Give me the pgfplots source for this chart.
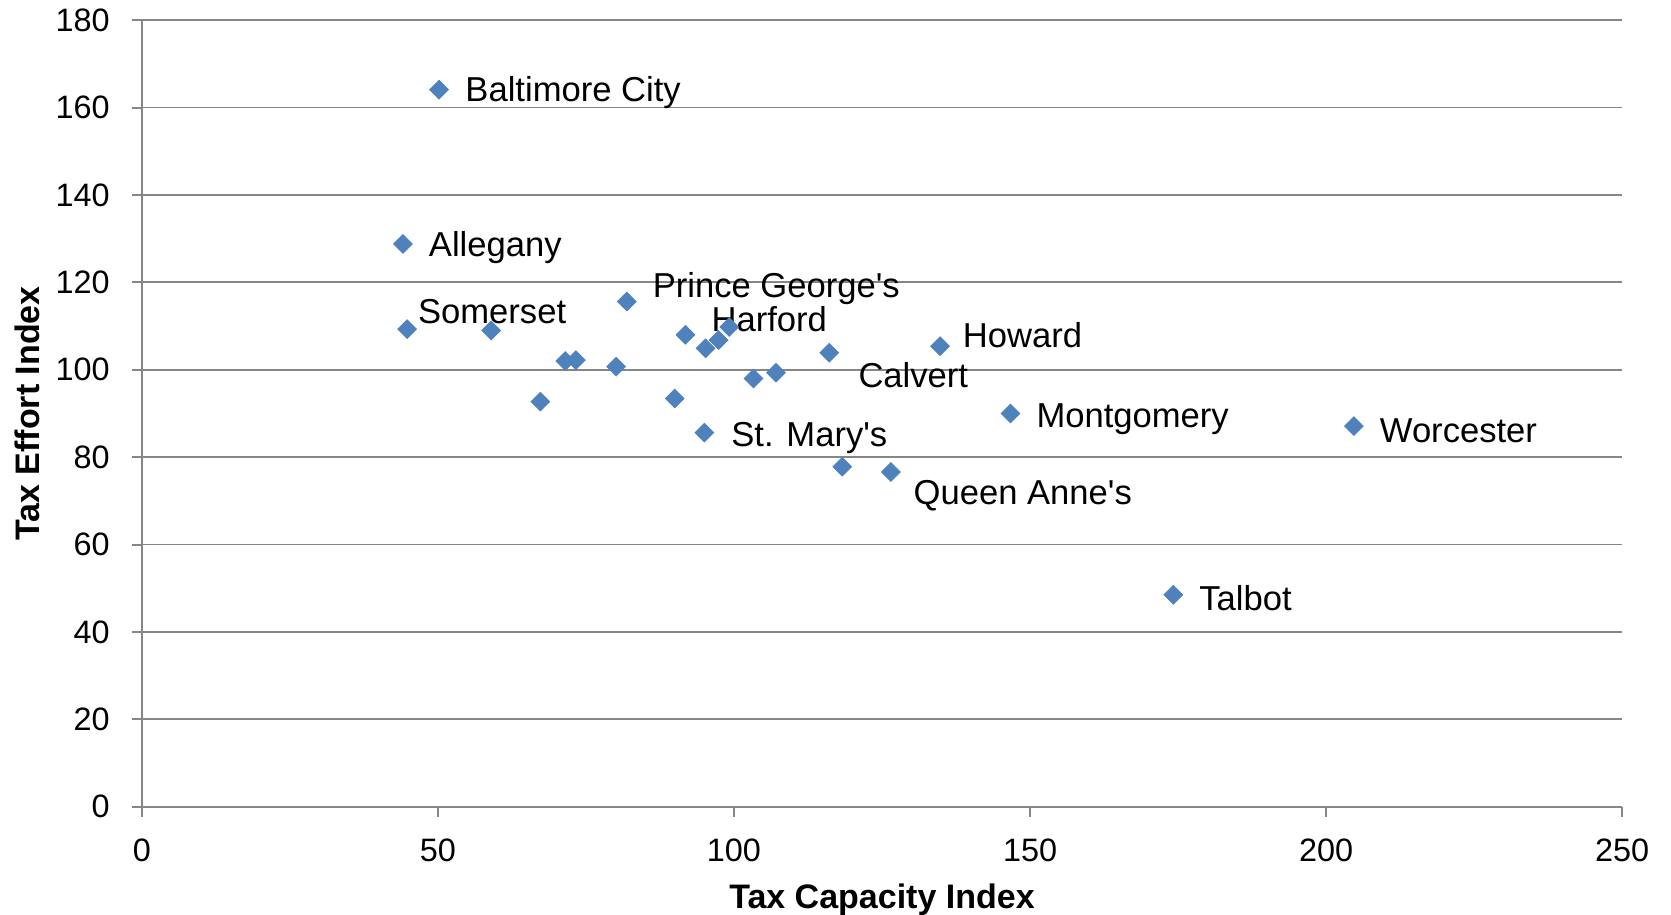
\documentclass[border=0pt]{standalone}
\usepackage{pgfplots}
\pgfplotsset{compat=1.18}
\usepackage{fontspec}
\setmainfont{Liberation Sans}
\definecolor{mk}{HTML}{4F81BD}
\definecolor{gr}{HTML}{868686}
\begin{document}
\begin{tikzpicture}
\useasboundingbox (-70.9pt,-54.15pt) rectangle (764.6pt,403.35pt);
\begin{axis}[
  scale only axis,
  width=740.2pt, height=393.25pt,
  xmin=0, xmax=250, ymin=0, ymax=180,
  xtick={0,50,...,250}, ytick={0,20,...,180},
  axis x line*=bottom, axis y line*=left,
  axis line style={gr, line width=1pt, -},
  tick style={gr, line width=1pt},
  tick align=outside, major tick length=5pt,
  ymajorgrids, grid style={gr, line width=0.9pt},
  tick label style={font=\fontsize{16.2}{19}\selectfont},
  /pgf/number format/assume math mode=true,
  xticklabel style={anchor=center, inner sep=0pt, yshift=-16.9pt},
  yticklabel style={anchor=east, inner sep=0pt, xshift=-10.9pt},
  xlabel={Tax Capacity Index}, ylabel={Tax Effort Index},
  every axis x label/.style={at={([yshift=-46.3pt]axis description cs:0.5,0)}, anchor=center, font=\bfseries\fontsize{17}{20}\selectfont},
  every axis y label/.style={at={([xshift=-57.4pt]axis description cs:0,0.5)}, rotate=90, anchor=center, font=\bfseries\fontsize{17}{20}\selectfont},
  clip=false,
]
\addplot[only marks, mark=square*, mark size=3.3pt, mark options={rotate=45, fill=mk, draw=mk}] coordinates {
(50.2,164.1) (44.1,128.8) (44.8,109.3) (59.0,109.0) (81.9,115.6)
(91.8,108.0) (99.2,109.8) (97.4,106.8) (95.2,104.9) (71.5,102.0)
(73.3,102.2) (80.1,100.7) (67.3,92.7) (90.0,93.4) (95.0,85.6)
(103.3,98.0) (107.1,99.3) (116.1,103.9) (134.8,105.4) (146.7,90.0)
(204.7,87.1) (118.3,77.8) (126.5,76.6) (174.2,48.5)
};
\begin{scope}[every node/.style={font=\fontsize{17.3}{20}\selectfont, inner sep=0pt, anchor=west}]
\node[xshift=13pt, yshift=-1.6pt] at (axis cs:50.2,164.1) {Baltimore City};
\node[xshift=12.8pt, yshift=-1.6pt] at (axis cs:44.1,128.8) {Allegany};
\node[xshift=5.3pt, yshift=8.6pt] at (axis cs:44.8,109.3) {Somerset};
\node[xshift=12.8pt, yshift=6.5pt] at (axis cs:81.9,115.6) {Prince George\textquotesingle s};
\node[xshift=-9pt, yshift=4pt] at (axis cs:99.2,109.8) {Harford};
\node[xshift=14.4pt, yshift=-11pt] at (axis cs:116.1,103.9) {Calvert};
\node[xshift=11.2pt, yshift=5.6pt] at (axis cs:134.8,105.4) {Howard};
\node[xshift=12.8pt, yshift=-2.8pt] at (axis cs:146.7,90.0) {Montgomery};
\node[xshift=12.8pt, yshift=-2.4pt] at (axis cs:204.7,87.1) {Worcester};
\node[xshift=13.3pt, yshift=-2.6pt] at (axis cs:95.0,85.6) {St. Mary\textquotesingle s};
\node[xshift=11.2pt, yshift=-11.6pt] at (axis cs:126.5,76.6) {Queen Anne\textquotesingle s};
\node[xshift=12.8pt, yshift=-1.8pt] at (axis cs:174.2,48.5) {Talbot};
\end{scope}
\end{axis}
\end{tikzpicture}
\end{document}
